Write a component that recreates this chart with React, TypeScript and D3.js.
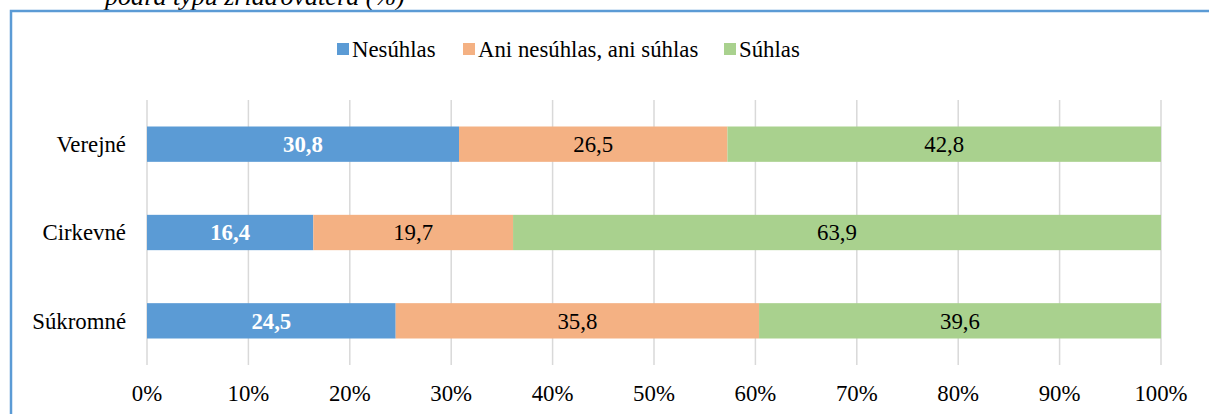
import React from "react";
import * as d3 from "d3";

const categories = ["Verejné", "Cirkevné", "Súkromné"];
const seriesNames = ["Nesúhlas", "Ani nesúhlas, ani súhlas", "Súhlas"];
const nesuhlas = [30.8, 16.4, 24.5];
const ani = [26.5, 19.7, 35.8];
const suhlas = [42.8, 63.9, 39.6];
const tickValues = [0, 10, 20, 30, 40, 50, 60, 70, 80, 90, 100];
const colors = ["#5B9BD5", "#F4B183", "#A9D18E"];

const W = 1209, H = 414;
const FONT = "'Liberation Serif', 'Times New Roman', serif";
const FS = 22.8;

export default function App() {
  const x = d3.scaleLinear().domain([0, 100]).range([147, 1161]);
  const y = d3.scaleBand().domain(categories).range([100, 365]).paddingInner(0.6).paddingOuter(0.3);
  const rows = categories.map((c, i) => {
    const vals = [nesuhlas[i], ani[i], suhlas[i]];
    const total = d3.sum(vals);
    let acc = 0;
    return vals.map((v, k) => {
      const start = acc;
      acc += (v / total) * 100;
      return { c, k, v, start, end: acc };
    });
  });
  const legendItems = [
    { sx: 337, tx: 352 },
    { sx: 463, tx: 478 },
    { sx: 724, tx: 739 },
  ];
  return (
    <svg width={W} height={H} style={{ position: "absolute", left: 0, top: 0 }} fontFamily={FONT}>
      <rect x={0} y={0} width={W} height={H} fill="#fff" />
      <text x={105} y={5} fontSize={26} fontStyle="italic" fill="#000">podľa typu zriaďovateľa (%)</text>
      <rect x={11} y={11} width={W + 10} height={H + 10} fill="#fff" stroke="#5B9BD5" strokeWidth={2.5} />
      {tickValues.map((t) => (
        <line key={t} x1={x(t)} x2={x(t)} y1={100} y2={365} stroke="#D9D9D9" strokeWidth={1.5} />
      ))}
      {rows.map((r) =>
        r.map((s) => (
          <rect key={s.c + s.k} x={x(s.start)} y={y(s.c)!} width={x(s.end) - x(s.start)} height={y.bandwidth()} fill={colors[s.k]} />
        ))
      )}
      {rows.map((r) =>
        r.map((s) => (
          <text
            key={"l" + s.c + s.k}
            x={(x(s.start) + x(s.end)) / 2}
            y={y(s.c)! + y.bandwidth() / 2}
            dy="0.35em"
            textAnchor="middle"
            fontSize={FS}
            fontWeight={s.k === 0 ? "bold" : "normal"}
            fill={s.k === 0 ? "#fff" : "#000"}
          >
            {d3.format(".1f")(s.v).replace(".", ",")}
          </text>
        ))
      )}
      {categories.map((c) => (
        <text key={c} x={126} y={y(c)! + y.bandwidth() / 2} dy="0.35em" textAnchor="end" fontSize={FS} fill="#000">
          {c}
        </text>
      ))}
      {tickValues.map((t) => (
        <text key={"t" + t} x={x(t)} y={393} dy="0.35em" textAnchor="middle" fontSize={FS} fill="#000">
          {t}%
        </text>
      ))}
      {seriesNames.map((n, i) => (
        <g key={n}>
          <rect x={legendItems[i].sx} y={43} width={12} height={12} fill={colors[i]} />
          <text x={legendItems[i].tx} y={49} dy="0.35em" fontSize={FS} fill="#000">{n}</text>
        </g>
      ))}
    </svg>
  );
}
